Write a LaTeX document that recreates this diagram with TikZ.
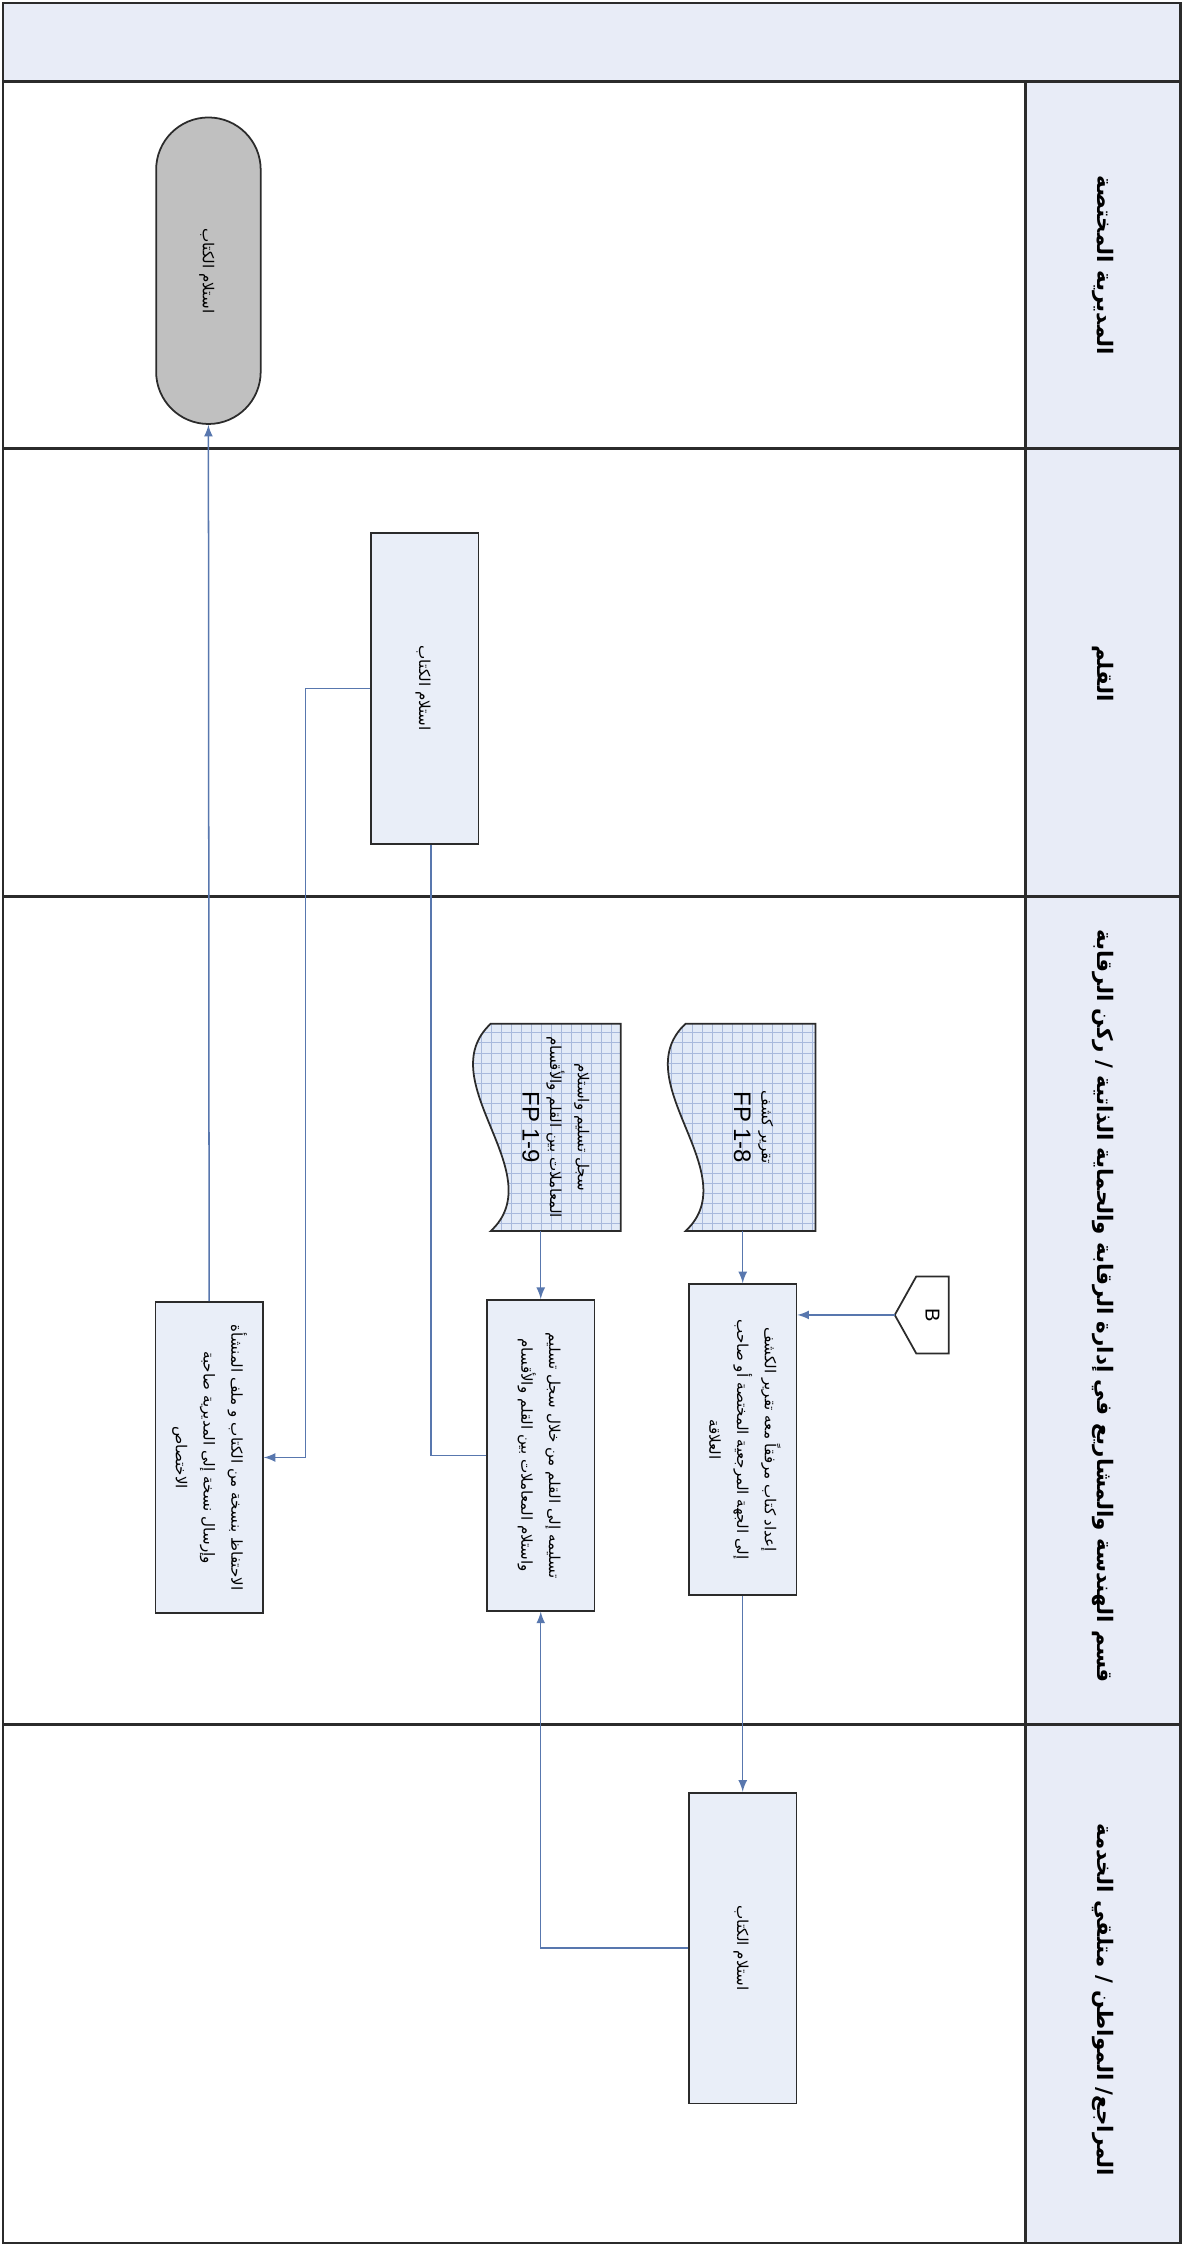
\documentclass[tikz,border=0pt]{standalone}
\usepackage{fontspec}
\usepackage{graphicx}
\usetikzlibrary{positioning,calc,backgrounds}
\setmainfont{Liberation Sans}
\newfontfamily\arabicfont[Script=Arabic]{DejaVu Sans}
\TeXXeTstate=1

\definecolor{lanefill}{HTML}{E8ECF7}
\definecolor{boxfill}{HTML}{E9EEF8}
\definecolor{termfill}{HTML}{C0C0C0}
\definecolor{docfill}{HTML}{E2EAF7}
\definecolor{docgrid}{HTML}{A8B9DC}
\definecolor{flowblue}{HTML}{5877AE}
\definecolor{edgegray}{HTML}{2B2B2B}

\newcommand{\ar}[1]{\beginR #1\endR}
\newcommand{\vlab}[1]{\rotatebox{-90}{\begin{tabular}{@{}c@{}}#1\end{tabular}}}

\begin{document}
\begin{tikzpicture}[x=0.2mm, y=-0.2mm, >=latex,
    laneline/.style={draw=edgegray, line width=1pt},
    lanehead/.style={inner sep=0pt, font=\arabicfont\bfseries\fontsize{8.5}{10}\selectfont},
    box/.style={draw=edgegray, line width=0.7pt, fill=boxfill, inner sep=0pt,
      minimum width=15mm, minimum height=43.4mm, font=\arabicfont\fontsize{6}{11}\selectfont},
    term/.style={box, fill=termfill, minimum width=14.6mm, minimum height=42.8mm, rounded corners=7.3mm},
    docnode/.style={inner sep=0pt, minimum width=20.4mm, minimum height=28.8mm},
    doctext/.style={inner sep=0pt, font=\arabicfont\fontsize{6}{11}\selectfont},
    docshape/.style={fill=docfill, draw=edgegray, line width=0.7pt,
      path picture={\draw[docgrid, line width=0.25pt, step=1.4mm]
        (path picture bounding box.south west) grid (path picture bounding box.north east);}},
    offpage/.style={inner sep=0pt, minimum width=7.4mm, minimum height=10.6mm},
    flow/.style={draw=flowblue, line width=0.6pt}
  ]
  \useasboundingbox (0,0) rectangle (826,1568);

  % lanes
  \fill[lanefill] (2,2) rectangle (824,57);
  \fill[lanefill] (716,57) rectangle (824,1566);
  \draw[laneline] (2,2) rectangle (824,1566);
  \draw[laneline] (2,57) -- (824,57);
  \draw[laneline] (716,57) -- (716,1566);
  \draw[laneline] (2,313) -- (824,313);
  \draw[laneline] (2,626) -- (824,626);
  \draw[laneline] (2,1204) -- (824,1204);

  \node[lanehead] (h1) at (770,185) {\vlab{\ar{المديرية المختصة}}};
  \node[lanehead] (h2) at (770,470) {\vlab{\ar{القلم}}};
  \node[lanehead] (h3) at (770,912) {\vlab{\ar{قسم الهندسة والمشاريع في إدارة الرقابة والحماية الذاتية / ركن الرقابة}}};
  \node[lanehead] (h4) at (770,1396) {\vlab{\ar{المراجع/ المواطن / متلقي الخدمة}}};

  % steps
  \node[term] (done) at (145.5,189) {\vlab{\ar{استلام الكتاب}}};
  \node[box] (qalam) at (296.5,480.5) {\vlab{\ar{استلام الكتاب}}};
  \node[box] (keep) at (146,1017.5) {\vlab{\ar{الاحتفاظ بنسخة من الكتاب و ملف المنشأة}\\
      \ar{وإرسال نسخة إلى المديرية صاحبة}\\ \ar{الاختصاص}}};
  \node[box] (hand) at (377.5,1016) {\vlab{\ar{تسليمه إلى القلم من خلال سجل تسليم}\\
      \ar{واستلام المعاملات بين القلم والأقسام}}};
  \node[box] (prep) at (518.5,1005) {\vlab{\ar{إعداد كتاب مرفقاً معه تقرير الكشف}\\
      \ar{إلى الجهة المرجعية المختصة أو صاحب}\\ \ar{العلاقة}}};
  \node[box] (recv) at (518.5,1360) {\vlab{\ar{استلام الكتاب}}};

  % documents
  \node[docnode] (log) at (382,787) {};
  \node[doctext] (logtext) at ([xshift=1.2mm]log.center) {\vlab{\ar{سجل تسليم واستلام}\\
      \ar{المعاملات بين القلم والأقسام}\\ {\normalfont\fontsize{9.5}{11}\selectfont FP 1-9}}};
  \node[docnode] (report) at (518,787) {};
  \node[doctext] (reporttext) at ([xshift=1.6mm]report.center) {\vlab{\ar{تقرير كشف}\\
      {\normalfont\fontsize{9.5}{11}\selectfont FP 1-8}}};
  \node[offpage] (offB) at (643.5,918) {};
  \node[inner sep=0pt, font=\fontsize{8}{9}\selectfont] (offBtext) at ([xshift=1.5mm]offB.center) {\rotatebox{-90}{B}};

  \begin{scope}[on background layer]
    \foreach \d in {log,report}
      \path[docshape] (\d.north east) -- ($(\d.north west)+(12,0)$)
        .. controls +(-43,40) and +(43,-40) .. ($(\d.south west)+(12,0)$)
        -- (\d.south east) -- cycle;
    \path[fill=white, draw=edgegray, line width=0.7pt] (offB.north east) -- (offB.south east)
      -- ($(offB.south west)+(15,0)$) -- (offB.west) -- ($(offB.north west)+(15,0)$) -- cycle;
  \end{scope}

  % connectors
  \draw[flow,->] (offB.west) -- (offB.west -| prep.east);
  \draw[flow,->] (report.south -| prep.north) -- (prep.north);
  \draw[flow,->] (prep.south) -- (recv.north);
  \draw[flow,->] (recv.west) -| (hand.south);
  \draw[flow,->] (log.south -| hand.north) -- (hand.north);
  \draw[flow] (hand.west) -| ([xshift=0.9mm]qalam.south);
  \draw[flow,->] (qalam.west) -- ++(-45,0) |- (keep.east);
  \draw[flow,->] (keep.north) -- (done.south);
\end{tikzpicture}
\end{document}
